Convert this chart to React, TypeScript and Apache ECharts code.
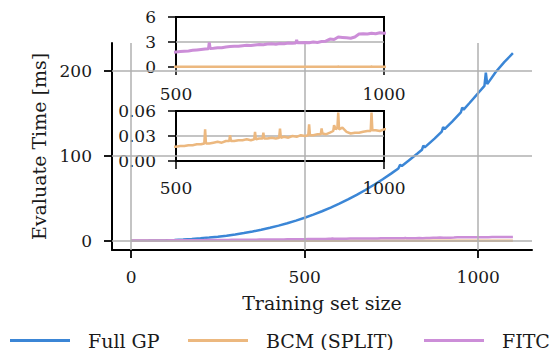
import React, { useEffect, useRef } from "react";
import * as echarts from "echarts";

// Full GP (sampled training-set sizes and evaluate times in ms)
const gpSizes = [0, 25, 50, 75, 100, 125, 150, 175, 200, 225, 250, 275, 300, 325, 350, 375, 400, 425, 450, 475, 500, 525, 550, 575, 600, 625, 650, 675, 700, 725, 750, 770, 775, 780, 800, 825, 838, 842, 846, 850, 875, 895, 899, 903, 925, 950, 954, 958, 975, 1000, 1018, 1022, 1026, 1050, 1075, 1100];
const gpTimes = [0.0, 0.03, 0.12, 0.29, 0.55, 0.91, 1.39, 1.99, 2.74, 3.63, 4.69, 5.92, 7.34, 8.97, 10.8, 12.9, 15.2, 17.7, 20.5, 23.6, 27.0, 30.7, 34.7, 39.0, 43.6, 48.6, 54.0, 59.7, 65.9, 72.4, 79.3, 85.1, 89.5, 88.1, 94.5, 102.7, 107.2, 112.0, 110.0, 111.4, 120.6, 128.6, 134.0, 131.5, 140.4, 151.1, 157.0, 154.5, 162.3, 174.0, 182.5, 198.0, 184.5, 198.5, 210.5, 221.0];

// BCM (SPLIT)
const bcmSizes = [
  0, 10, 20, 30, 40, 50, 60, 70, 80, 90,
  100, 110, 120, 130, 140, 150, 160, 170, 180, 190,
  200, 210, 220, 230, 240, 250, 260, 270, 280, 290,
  300, 310, 320, 330, 340, 350, 360, 370, 380, 390,
  400, 410, 420, 430, 440, 450, 460, 470, 480, 490,
  500, 510, 520, 530, 540, 550,
  560, 568, 570, 572, 580, 590, 600, 610, 620, 628,
  630, 632, 640, 650, 660, 670, 680, 688, 690, 692,
  700, 708, 710, 712, 720, 730, 740, 748, 750, 752,
  760, 770, 780, 790, 800, 810, 818, 820, 822, 830,
  840, 848, 850, 852, 860, 870, 878, 880, 884, 888,
  890, 892, 900, 910, 920, 930, 940, 950, 960, 968,
  970, 972, 980, 990, 1000,
  1010, 1020, 1030, 1040, 1050, 1060, 1070, 1080, 1090, 1100,
];
const bcmTimes = [
  0.002, 0.002, 0.003, 0.003, 0.003, 0.004, 0.004, 0.004, 0.005, 0.005,
  0.005, 0.006, 0.006, 0.006, 0.007, 0.007, 0.007, 0.008, 0.008, 0.008,
  0.009, 0.009, 0.009, 0.01, 0.01, 0.01, 0.011, 0.011, 0.011, 0.012,
  0.012, 0.012, 0.013, 0.013, 0.013, 0.014, 0.014, 0.014, 0.015, 0.015,
  0.015, 0.015, 0.016, 0.016, 0.016, 0.016, 0.017, 0.017, 0.017, 0.017,
  0.017, 0.018, 0.018, 0.019, 0.019, 0.02,
  0.02, 0.021, 0.038, 0.021, 0.021, 0.022, 0.023, 0.022, 0.024, 0.024,
  0.031, 0.024, 0.024, 0.025, 0.025, 0.026, 0.025, 0.026, 0.035, 0.026,
  0.027, 0.027, 0.034, 0.027, 0.027, 0.028, 0.027, 0.028, 0.039, 0.028,
  0.029, 0.028, 0.03, 0.029, 0.031, 0.03, 0.031, 0.044, 0.031, 0.031,
  0.032, 0.032, 0.039, 0.033, 0.032, 0.034, 0.036, 0.043, 0.038, 0.04,
  0.058, 0.038, 0.04, 0.035, 0.033, 0.034, 0.034, 0.035, 0.036, 0.036,
  0.058, 0.037, 0.037, 0.036, 0.038,
  0.038, 0.039, 0.039, 0.04, 0.04, 0.041, 0.041, 0.042, 0.042, 0.043,
];

// FITC
const fitcSizes = [
  0, 10, 20, 30, 40, 50, 60, 70, 80, 90,
  100, 110, 120, 130, 140, 150, 160, 170, 180, 190,
  200, 210, 220, 230, 240, 250, 260, 270, 280, 290,
  300, 310, 320, 330, 340, 350, 360, 370, 380, 390,
  400, 410, 420, 430, 440, 450, 460, 470, 480, 490,
  500, 510, 520, 530, 540, 550, 560, 570, 578, 580,
  582, 590, 600, 610, 620, 630, 640, 650, 660, 670,
  680, 690, 700, 710, 720, 730, 740, 750, 760, 770,
  780, 788, 790, 792, 800, 810, 820, 830, 840, 850,
  860, 870, 880, 890, 900, 910, 920, 930, 940, 950,
  960, 970, 980, 990, 1000, 1010, 1020, 1030, 1040, 1050,
  1060, 1070, 1080, 1090, 1100,
];
const fitcTimes = [
  0.05, 0.08, 0.1, 0.13, 0.16, 0.19, 0.22, 0.25, 0.28, 0.31,
  0.34, 0.37, 0.4, 0.43, 0.46, 0.49, 0.52, 0.55, 0.58, 0.61,
  0.64, 0.67, 0.71, 0.74, 0.77, 0.81, 0.84, 0.88, 0.91, 0.95,
  0.98, 1.02, 1.05, 1.09, 1.12, 1.16, 1.2, 1.23, 1.27, 1.31,
  1.35, 1.38, 1.42, 1.46, 1.5, 1.54, 1.58, 1.62, 1.66, 1.72,
  1.8, 1.85, 1.9, 1.93, 2.0, 2.05, 2.1, 2.15, 2.18, 2.95,
  2.22, 2.25, 2.3, 2.32, 2.4, 2.45, 2.5, 2.48, 2.56, 2.6,
  2.58, 2.65, 2.7, 2.68, 2.75, 2.78, 2.74, 2.82, 2.8, 2.88,
  2.85, 2.87, 3.25, 2.9, 2.9, 2.95, 2.92, 3.0, 2.95, 3.05,
  3.1, 3.35, 3.3, 3.6, 3.55, 3.5, 3.45, 3.6, 3.95, 4.0,
  3.95, 4.05, 4.0, 4.1, 4.05, 4.1, 4.15, 4.1, 4.2, 4.25,
  4.2, 4.3, 4.35, 4.3, 4.4,
];

const mainXTicks = [0, 500, 1000];
const mainYTicks = [0, 100, 200];
const inset1YTicks = [0, 3, 6];
const inset2YTicks = [0, 0.03, 0.06];
const seriesNames = ["Full GP", "BCM (SPLIT)", "FITC"];

const BLUE = "#3b86d6";
const ORANGE = "#ecb87f";
const PURPLE = "#cc8ed8";
const GRID = "#b0b0b0";
const INK = "#1a1a1a";
const SERIF = "DejaVu Serif";

const pairs = (xs: number[], ys: number[]) => xs.map((x, i) => [x, ys[i]]);

const gridLines = (xv: number[], yv: number[]) => ({
  silent: true,
  symbol: "none",
  label: { show: false },
  lineStyle: { color: GRID, width: 1.5, type: "solid" },
  emphasis: { disabled: true },
  data: [...xv.map((v) => ({ xAxis: v })), ...yv.map((v) => ({ yAxis: v }))],
});

export default function App() {
  const ref = useRef<HTMLDivElement>(null);
  useEffect(() => {
    if (!ref.current) return;
    const chart = echarts.init(ref.current, undefined, { renderer: "svg" });
    const tickLabel = { color: INK, fontFamily: SERIF, fontSize: 17 };
    const plain = (v: number) => String(v);
    const insetGrid = {
      show: true,
      backgroundColor: "#fff",
      borderColor: "#000",
      borderWidth: 2,
      z: 3,
    };
    const insetX = (gi: number) => ({
      type: "value",
      gridIndex: gi,
      min: 500,
      max: 1000,
      interval: 500,
      z: 4,
      axisLine: { show: false },
      axisTick: { show: true, inside: false, length: 8, lineStyle: { color: "#000", width: 1.5 } },
      axisLabel: { ...tickLabel, margin: 18, formatter: plain },
      splitLine: { show: false },
    });
    const seriesLine = (name: string, xi: number, data: number[][], color: string, width: number, z: number) => ({
      name,
      type: "line",
      xAxisIndex: xi,
      yAxisIndex: xi,
      data,
      symbol: "none",
      showSymbol: false,
      z,
      lineStyle: { color, width },
      itemStyle: { color },
    });
    const legendAt = (name: string, left: number) => ({
      data: [name],
      left,
      top: 331,
      padding: 0,
      icon: "rect",
      itemWidth: 60,
      itemHeight: 3,
      selectedMode: false,
      textStyle: { color: INK, fontFamily: SERIF, fontSize: 19, padding: [0, 0, 0, 13] },
    });
    chart.setOption({
      animation: false,
      backgroundColor: "#fff",
      grid: [
        { left: 112, top: 43, width: 420, height: 207, z: 0 },
        { left: 176, top: 17, width: 208, height: 50, ...insetGrid },
        { left: 176, top: 111, width: 208, height: 50, ...insetGrid },
      ],
      xAxis: [
        {
          type: "value",
          gridIndex: 0,
          min: -55,
          max: 1155,
          z: 1.5,
          axisLine: { show: true, onZero: false, lineStyle: { color: "#000", width: 2 } },
          axisTick: { show: true, inside: false, length: 8, customValues: mainXTicks, lineStyle: { color: "#000", width: 1.8 } },
          axisLabel: { ...tickLabel, margin: 18, customValues: mainXTicks, formatter: plain },
          splitLine: { show: false },
          name: "Training set size",
          nameLocation: "middle",
          nameGap: 43,
          nameTextStyle: { color: INK, fontFamily: SERIF, fontSize: 19 },
        },
        insetX(1),
        insetX(2),
      ],
      yAxis: [
        {
          type: "value",
          gridIndex: 0,
          min: -11,
          max: 233,
          z: 1.5,
          axisLine: { show: true, onZero: false, lineStyle: { color: "#000", width: 2 } },
          axisTick: { show: true, inside: false, length: 8, customValues: mainYTicks, lineStyle: { color: "#000", width: 1.8 } },
          axisLabel: { ...tickLabel, margin: 20, customValues: mainYTicks, formatter: plain },
          splitLine: { show: false },
          name: "Evaluate Time [ms]",
          nameLocation: "middle",
          nameGap: 62,
          nameTextStyle: { color: INK, fontFamily: SERIF, fontSize: 19 },
        },
        {
          type: "value",
          gridIndex: 1,
          min: inset1YTicks[0],
          max: inset1YTicks[2],
          interval: 3,
          z: 4,
          axisLine: { show: false },
          axisTick: { show: true, inside: false, length: 8, lineStyle: { color: "#000", width: 1.5 } },
          axisLabel: { ...tickLabel, margin: 20, formatter: plain },
          splitLine: { show: false },
        },
        {
          type: "value",
          gridIndex: 2,
          min: inset2YTicks[0],
          max: inset2YTicks[2],
          interval: 0.03,
          z: 4,
          axisLine: { show: false },
          axisTick: { show: true, inside: false, length: 8, lineStyle: { color: "#000", width: 1.5 } },
          axisLabel: { ...tickLabel, margin: 20, formatter: (v: number) => v.toFixed(2) },
          splitLine: { show: false },
        },
      ],
      legend: [legendAt(seriesNames[0], 10), legendAt(seriesNames[1], 188), legendAt(seriesNames[2], 424)],
      series: [
        // grid lines (behind data)
        { type: "line", xAxisIndex: 0, yAxisIndex: 0, data: [], z: 1, silent: true, markLine: gridLines(mainXTicks, mainYTicks) },
        { type: "line", xAxisIndex: 1, yAxisIndex: 1, data: [], z: 4.5, silent: true, markLine: gridLines([], [inset1YTicks[1]]) },
        { type: "line", xAxisIndex: 2, yAxisIndex: 2, data: [], z: 4.5, silent: true, markLine: gridLines([], [inset2YTicks[1]]) },
        // main
        seriesLine(seriesNames[0], 0, pairs(gpSizes, gpTimes), BLUE, 2.5, 2),
        seriesLine(seriesNames[1], 0, pairs(bcmSizes, bcmTimes), ORANGE, 2.5, 2),
        seriesLine(seriesNames[2], 0, pairs(fitcSizes, fitcTimes), PURPLE, 2.5, 2),
        // inset 1
        seriesLine(seriesNames[1], 1, pairs(bcmSizes, bcmTimes), ORANGE, 2.5, 5),
        seriesLine(seriesNames[2], 1, pairs(fitcSizes, fitcTimes), PURPLE, 3, 5),
        // inset 2
        seriesLine(seriesNames[1], 2, pairs(bcmSizes, bcmTimes), ORANGE, 2.5, 5),
      ],
    });
    return () => chart.dispose();
  }, []);
  return <div ref={ref} style={{ position: "absolute", left: 0, top: 0, width: 552, height: 350 }} />;
}
